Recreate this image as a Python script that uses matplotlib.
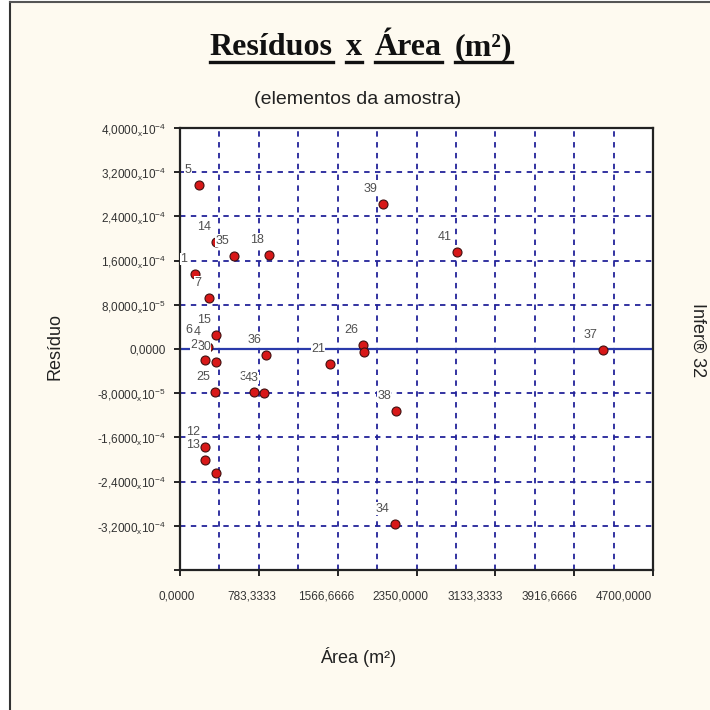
import numpy as np
import matplotlib
matplotlib.use('Agg')
import matplotlib.pyplot as plt
from matplotlib.lines import Line2D
from matplotlib.patches import Rectangle
import matplotlib.transforms as mtransforms

plt.rcParams['font.family'] = ['Liberation Sans', 'DejaVu Sans']
plt.rcParams['mathtext.fontset'] = 'custom'
plt.rcParams['mathtext.rm'] = 'Liberation Sans'
plt.rcParams['axes.unicode_minus'] = False

# elementos da amostra: rótulo, área (m²), resíduo
labels = ['1', '2', '3', '4', '5', '6', '7', '12', '13', '14', '15', '18',
          '21', '25', '26', '', '30', '34', '35', '36', '37', '38', '39',
          '41', '43', '']
area = [149, 248, 735, 278, 189, 199, 288, 248, 248, 358, 358, 884,
        1491, 348, 1818, 1828, 358, 2136, 537, 855, 4203, 2146, 2017,
        2753, 835, 358]
residuo = [1.36e-4, -2.0e-5, -7.8e-5, 0.36e-5, 2.96e-4, 0.73e-5, 9.3e-5,
           -1.78e-4, -2.0e-4, 1.93e-4, 2.55e-5, 1.71e-4, -2.7e-5, -7.8e-5,
           0.73e-5, -0.55e-5, -2.36e-5, -3.16e-4, 1.69e-4, -1.09e-5,
           -0.18e-5, -1.13e-4, 2.62e-4, 1.76e-4, -8.0e-5, -2.24e-4]

x_ticks = [0, 783.3333, 1566.6666, 2350, 3133.3333, 3916.6666, 4700]
x_ticklabels = ['0,0000', '783,3333', '1566,6666', '2350,0000',
                '3133,3333', '3916,6666', '4700,0000']
y_ticks = [-4.0e-4, -3.2e-4, -2.4e-4, -1.6e-4, -8.0e-5, 0, 8.0e-5,
           1.6e-4, 2.4e-4, 3.2e-4, 4.0e-4]
y_ticklabels = ['',
                r'-3,2000$_\mathregular{x}$10$^{-4}$',
                r'-2,4000$_\mathregular{x}$10$^{-4}$',
                r'-1,6000$_\mathregular{x}$10$^{-4}$',
                r'-8,0000$_\mathregular{x}$10$^{-5}$',
                '0,0000',
                r'8,0000$_\mathregular{x}$10$^{-5}$',
                r'1,6000$_\mathregular{x}$10$^{-4}$',
                r'2,4000$_\mathregular{x}$10$^{-4}$',
                r'3,2000$_\mathregular{x}$10$^{-4}$',
                r'4,0000$_\mathregular{x}$10$^{-4}$']

bg = '#fefaf0'
grid_col = '#23239a'

fig = plt.figure(figsize=(7.1, 7.1), dpi=100)
fig.patch.set_facecolor('white')
fig.patches.append(Rectangle((10 / 710, 0), 1, 1 - 2 / 710, transform=fig.transFigure,
                             facecolor=bg, edgecolor='none', zorder=-10))
fig.lines.append(Line2D([10 / 710, 10 / 710], [0, 1 - 2 / 710], transform=fig.transFigure,
                        color='#333333', lw=1.5))
fig.lines.append(Line2D([10 / 710, 1], [1 - 2 / 710, 1 - 2 / 710], transform=fig.transFigure,
                        color='#555555', lw=1.5))

ax = fig.add_axes([180 / 710, 1 - 570 / 710, 473 / 710, 442 / 710])
ax.set_facecolor('white')
ax.set_xlim(0, 4700)
ax.set_ylim(-4.0e-4, 4.0e-4)

# grade
for gx in np.arange(1, 12) * 4700 / 12:
    ax.axvline(gx, color=grid_col, lw=1.3, ls=(0, (3, 3)), zorder=1)
for gy in y_ticks[1:-1]:
    if gy == 0:
        continue
    ax.axhline(gy, color=grid_col, lw=1.3, ls=(0, (3, 3)), zorder=1)
ax.axhline(0, color='#2a3aaa', lw=1.6, zorder=1)

ax.scatter(area, residuo, s=42, color='#d81818', edgecolor='#401010',
           linewidth=0.8, zorder=3)

for lab, xv, yv in zip(labels, area, residuo):
    if not lab:
        continue
    dx = -12 if len(lab) > 1 else -11
    ax.annotate(lab, (xv, yv), xytext=(dx, 15), textcoords='offset pixels',
                ha='center', va='center', fontsize=9, color='#505050', zorder=4,
                bbox=dict(boxstyle='square,pad=0.02', fc='white', ec='none'))

ax.set_xticks(x_ticks)
ax.set_xticklabels(x_ticklabels, fontsize=8.5, color='#333333')
ax.set_yticks(y_ticks)
ax.set_yticklabels(y_ticklabels, fontsize=8.5, color='#333333')
ax.tick_params(axis='x', length=4, width=1.2, pad=11)
ax.tick_params(axis='y', length=4, width=1.2, pad=6)
for i, t in enumerate(ax.get_xticklabels()):
    t.set_transform(t.get_transform() + mtransforms.ScaledTranslation(
        -(3 + 4.4 * i) / 100, 0, fig.dpi_scale_trans))
for sp in ax.spines.values():
    sp.set_linewidth(1.6)
    sp.set_color('#222222')

# título com cada palavra sublinhada
renderer = fig.canvas.get_renderer()
words = ['Resíduos', 'x', 'Área', '(m²)']
tfont = dict(family='Liberation Serif', weight='bold', size=23, color='#111111')
tmp = [fig.text(0, 0, w, **tfont) for w in words]
widths = [t.get_window_extent(renderer).width for t in tmp]
for t in tmp:
    t.remove()
gap = 13
total = sum(widths) + gap * (len(words) - 1)
xpos = 361 - total / 2
base_y = 710 - 55
for w, wd in zip(words, widths):
    fig.text(xpos / 710, base_y / 710, w, ha='left', va='baseline', **tfont)
    fig.lines.append(Line2D([xpos / 710, (xpos + wd) / 710],
                            [(base_y - 7) / 710, (base_y - 7) / 710],
                            transform=fig.transFigure, color='#111111', lw=2.4))
    xpos += wd + gap

fig.text(358 / 710, 1 - 100 / 710, '(elementos da amostra)', ha='center', va='center',
         fontsize=14, color='#222222')
fig.text(55 / 710, 1 - 347 / 710, 'Resíduo', rotation=90, ha='center', va='center',
         fontsize=13, color='#222222')
fig.text(358 / 710, 1 - 657 / 710, 'Área (m²)', ha='center', va='center',
         fontsize=13, color='#222222')
fig.text(698 / 710, 1 - 340 / 710, 'Infer® 32', rotation=270, ha='center', va='center',
         fontsize=13, color='#222222')

fig.savefig('out.png', dpi=100, facecolor=fig.get_facecolor())
